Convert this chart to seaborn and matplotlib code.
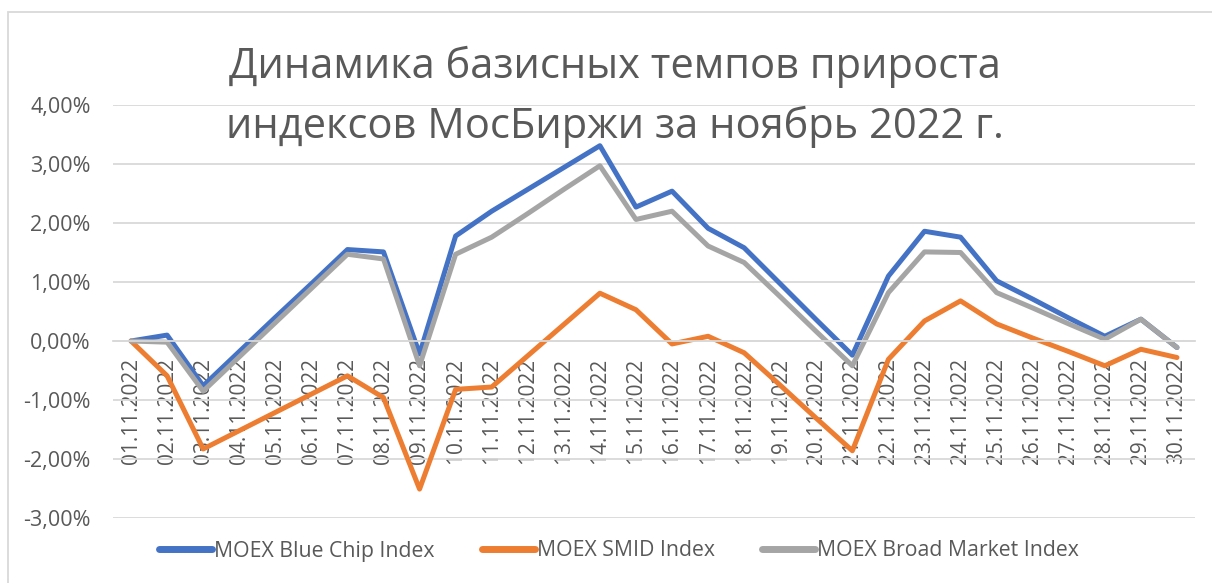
import pandas as pd
import numpy as np
import matplotlib
matplotlib.use('Agg')
import matplotlib.pyplot as plt
import seaborn as sns
from matplotlib.patches import Rectangle
from matplotlib.ticker import FuncFormatter

#Dates of November 2022 (category labels on the x axis)
dates = [f"{d:02d}.11.2022" for d in range(1, 31)]

#Base growth rates, %
blue_chip = [0.00, 0.10, -0.76, -0.18, 0.40, 0.97, 1.55, 1.51, -0.22, 1.78,
             2.20, 2.57, 2.94, 3.31, 2.27, 2.54, 1.91, 1.58, 0.97, 0.36,
             -0.24, 1.10, 1.86, 1.76, 1.02, 0.71, 0.39, 0.08, 0.37, -0.11]
smid = [0.00, -0.59, -1.83, -1.52, -1.21, -0.90, -0.59, -0.96, -2.51, -0.82,
        -0.78, -0.25, 0.28, 0.81, 0.53, -0.05, 0.08, -0.20, -0.75, -1.31,
        -1.86, -0.31, 0.34, 0.68, 0.29, 0.05, -0.18, -0.42, -0.14, -0.28]
broad = [0.00, -0.02, -0.85, -0.27, 0.31, 0.89, 1.47, 1.39, -0.42, 1.47,
         1.76, 2.16, 2.57, 2.97, 2.06, 2.20, 1.61, 1.33, 0.75, 0.16,
         -0.42, 0.82, 1.51, 1.50, 0.82, 0.56, 0.29, 0.03, 0.37, -0.11]

series_names = ['MOEX Blue Chip Index', 'MOEX SMID Index', 'MOEX Broad Market Index']
colors = ['#4472C4', '#ED7D31', '#A5A5A5']

#Long-form table for seaborn
df = pd.concat([
    pd.DataFrame({'pos': range(len(dates)), 'Date': dates, 'Value': vals, 'Index': name})
    for name, vals in zip(series_names, [blue_chip, smid, broad])
], ignore_index=True)

sns.set_style('white')
plt.rcParams['font.family'] = ['Open Sans', 'DejaVu Sans']
text_color = '#595959'
grid_color = '#D9D9D9'

fig = plt.figure(figsize=(12.12, 5.83), dpi=100)
ax = fig.add_axes([113 / 1212, 1 - 518 / 583, (1195 - 113) / 1212, (518 - 105) / 583])

sns.lineplot(data=df, x='pos', y='Value', hue='Index', hue_order=series_names,
             palette=colors, linewidth=3.6, ax=ax, legend=True,
             solid_joinstyle='round', solid_capstyle='round')

ax.set_xlim(-0.5, len(dates) - 0.5)
ax.set_ylim(-3, 4)
ax.set_yticks(range(-3, 5))
ax.yaxis.set_major_formatter(FuncFormatter(lambda v, p: f"{v:.2f}%".replace('.', ',')))
ax.grid(axis='y', color=grid_color, linewidth=1.3)
ax.set_axisbelow(True)

#Category axis crosses at zero, labels hang below it
for s in ['top', 'right', 'left']:
    ax.spines[s].set_visible(False)
ax.spines['bottom'].set_position(('data', 0))
ax.spines['bottom'].set_color(grid_color)
ax.spines['bottom'].set_linewidth(1.3)
ax.set_xticks(range(len(dates)))
ax.set_xticklabels(dates, rotation=90, va='top', ha='center')
ax.set_xticks(np.arange(-0.5, len(dates), 1), minor=True)
ax.tick_params(axis='x', which='major', length=0, pad=12, labelsize=15, labelcolor=text_color)
ax.tick_params(axis='x', which='minor', length=6, width=1.3, color=grid_color, direction='out')
ax.tick_params(axis='y', length=0, pad=16, labelsize=15.5, labelcolor=text_color)
ax.set_xlabel('')
ax.set_ylabel('')

#Legend at the bottom
handles, labels = ax.get_legend_handles_labels()
ax.get_legend().remove()
for h in handles:
    h.set_linewidth(5)
    h.set_solid_capstyle('round')
fig.legend(handles, labels, loc='center', bbox_to_anchor=(619 / 1212, 1 - 551 / 583),
           ncol=3, frameon=False, fontsize=15.3, labelcolor=text_color,
           handlelength=2.5, handletextpad=0.1, columnspacing=2.2)

#Title drawn over the chart
fig.text(615 / 1212, 1 - 78 / 583, 'Динамика базисных темпов прироста',
         ha='center', va='baseline', fontsize=30, color=text_color)
fig.text(615 / 1212, 1 - 138 / 583, 'индексов МосБиржи за ноябрь 2022 г.',
         ha='center', va='baseline', fontsize=30, color=text_color)

#Chart area border
fig.patches.append(Rectangle((8 / 1212, -0.02), 1.0, 1 - 12 / 583 + 0.02, transform=fig.transFigure,
                             fill=False, edgecolor=grid_color, linewidth=1.3))

fig.savefig('out.png', dpi=100)
